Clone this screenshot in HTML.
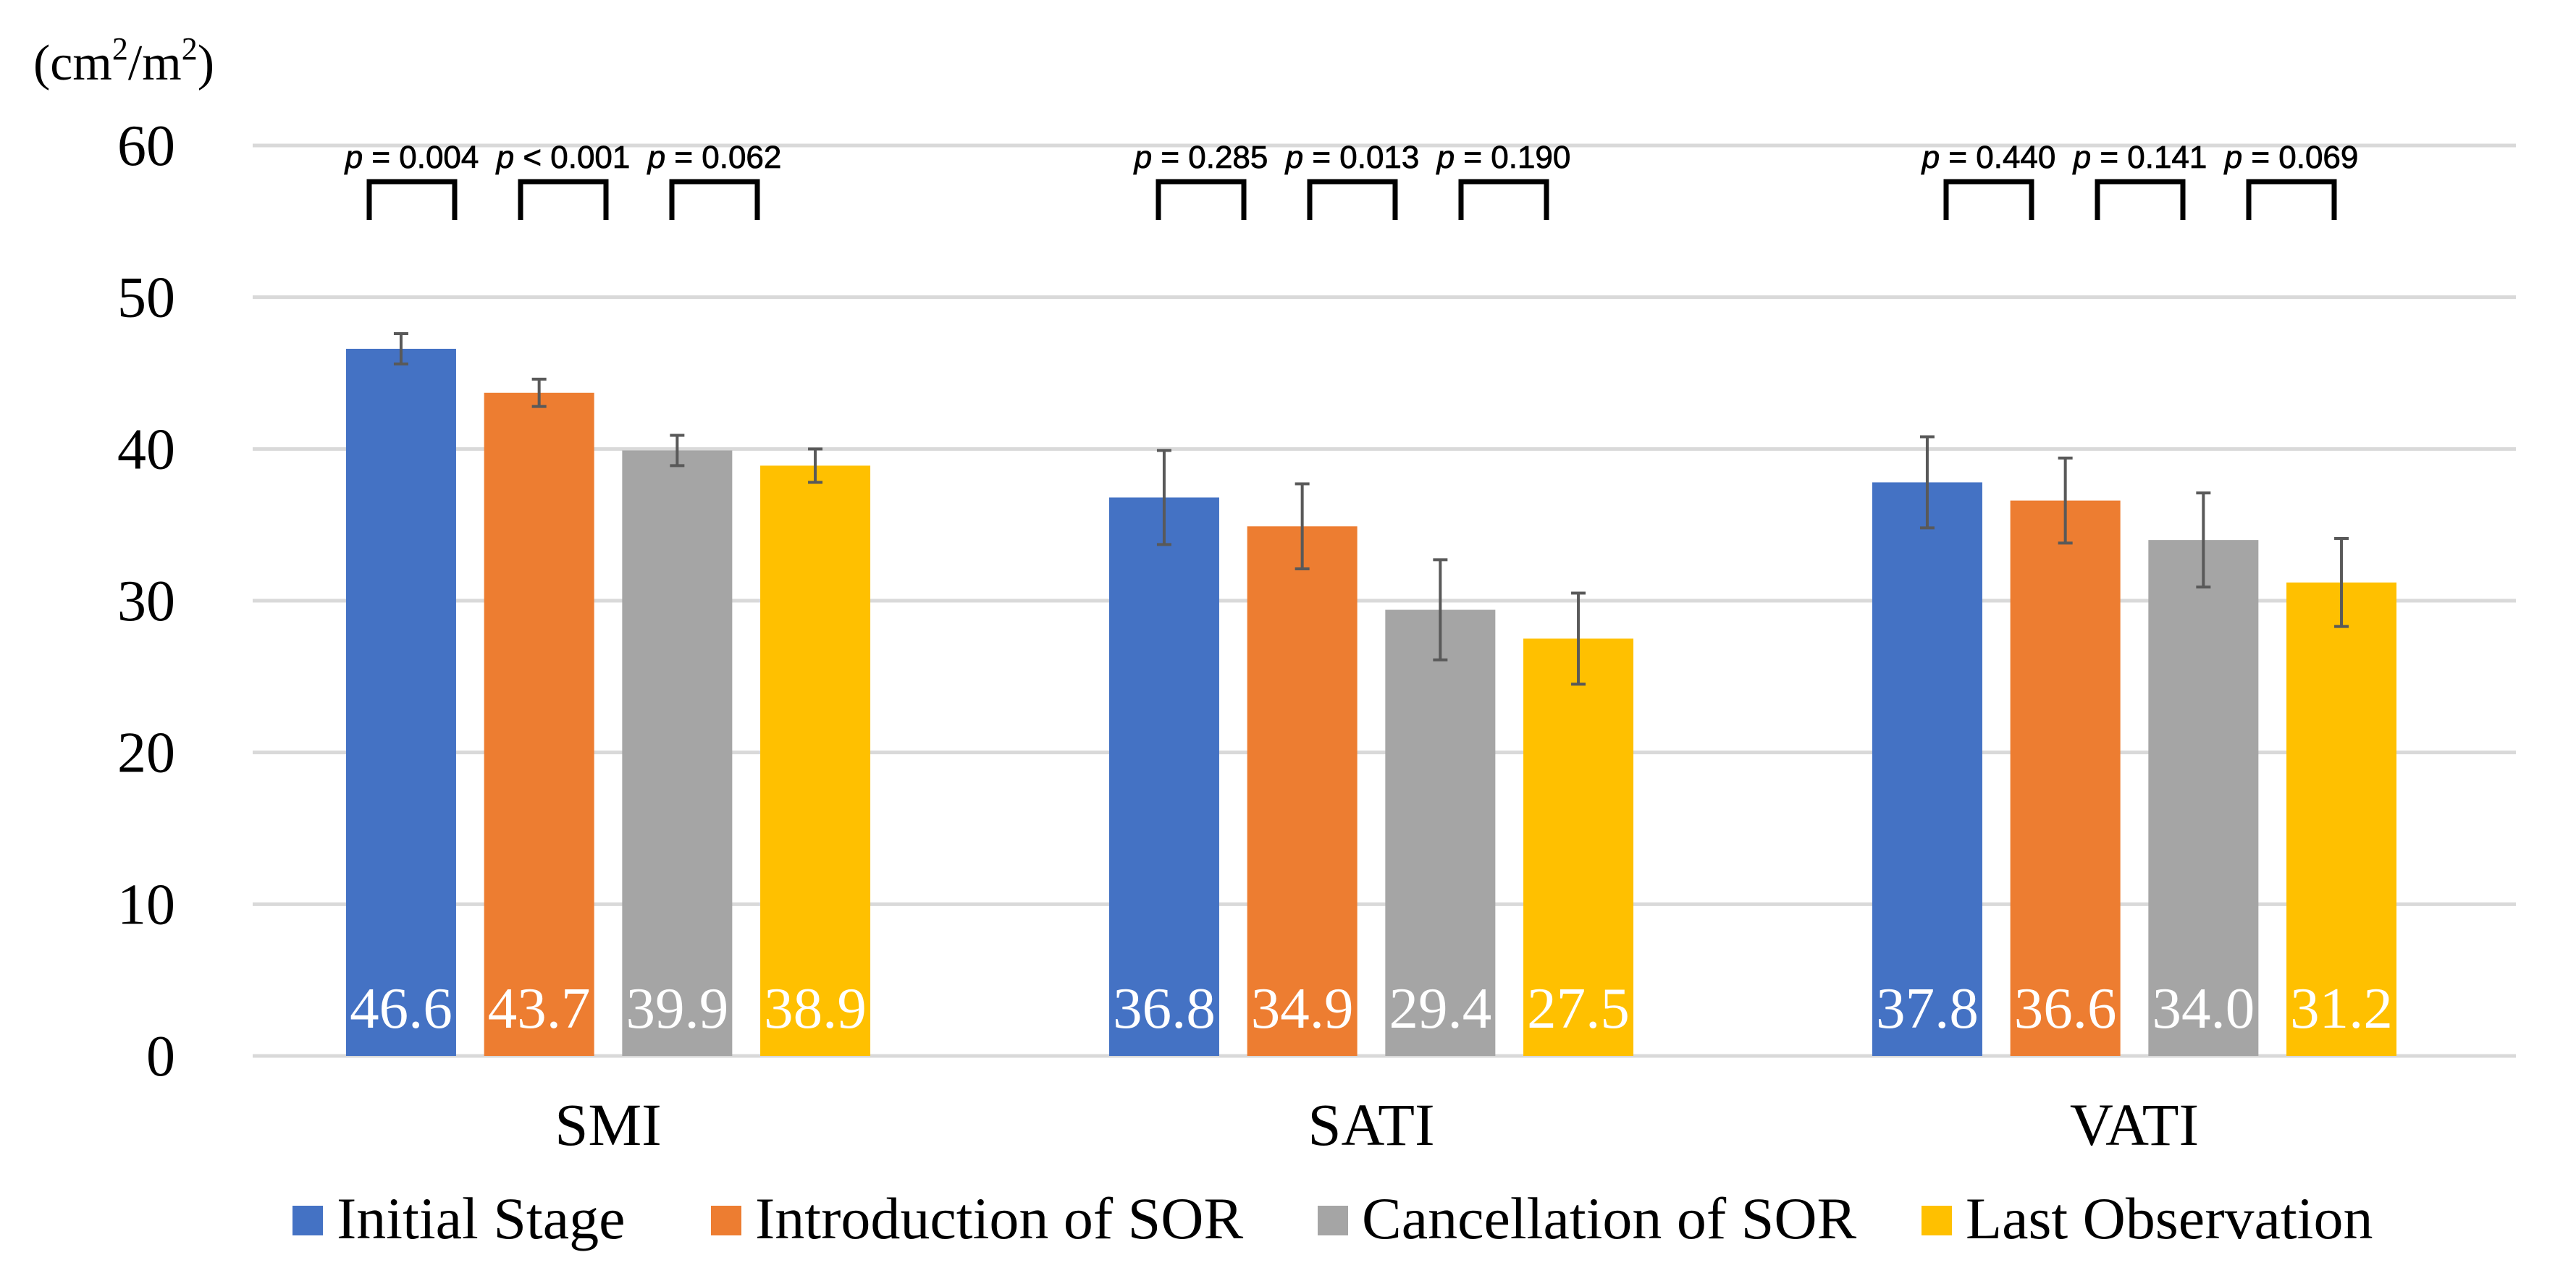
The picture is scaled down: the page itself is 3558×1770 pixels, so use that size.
<!DOCTYPE html>
<html><head><meta charset="utf-8"><style>
html,body{margin:0;padding:0;background:#fff;}
svg{display:block;}
</style></head><body>
<svg id="chart" width="3558" height="1770" viewBox="0 0 3558 1770" xmlns="http://www.w3.org/2000/svg">
<g id="grid"></g>
<g id="yticks"></g>
<g id="bars"></g>
<g id="sig"></g>
<g id="cats"></g>
<g id="legend"></g>
<text x="46" y="110" font-family="Liberation Serif, serif" font-size="70">(cm<tspan font-size="44" dy="-28">2</tspan><tspan dy="28">/m</tspan><tspan font-size="44" dy="-28">2</tspan><tspan dy="28">)</tspan></text>
</svg>
<script>
const categories = ["SMI", "SATI", "VATI"];
const seriesNames = ["Initial Stage", "Introduction of SOR", "Cancellation of SOR", "Last Observation"];
const initialStage = [46.6, 36.8, 37.8];
const introductionSOR = [43.7, 34.9, 36.6];
const cancellationSOR = [39.9, 29.4, 34.0];
const lastObservation = [38.9, 27.5, 31.2];
const errInitial = [1.0, 3.1, 3.0];
const errIntro = [0.9, 2.8, 2.8];
const errCancel = [1.0, 3.3, 3.1];
const errLast = [1.1, 3.0, 2.9];
const yTicks = [0, 10, 20, 30, 40, 50, 60];
const pSMI = ["= 0.004", "< 0.001", "= 0.062"];
const pSATI = ["= 0.285", "= 0.013", "= 0.190"];
const pVATI = ["= 0.440", "= 0.141", "= 0.069"];

const colors = ["#4472c4", "#ed7d31", "#a5a5a5", "#ffc000"];
const series = [initialStage, introductionSOR, cancellationSOR, lastObservation];
const errs = [errInitial, errIntro, errCancel, errLast];
const pvals = [pSMI, pSATI, pVATI];
const NS = "http://www.w3.org/2000/svg";
const plotL = 313, plotR = 3475, gridL = 349, y0 = 1459, yTop = 201, yMax = 60;
const y = v => y0 - (v / yMax) * (y0 - yTop);
const bandW = (plotR - plotL) / categories.length;
const xc = i => plotL + bandW * (i + 0.5);
const barW = 152, gap = 38.7;
const barX = (i, s) => xc(i) - (4 * barW + 3 * gap) / 2 + s * (barW + gap);
function mk(tag, attrs, parent) {
  const e = document.createElementNS(NS, tag);
  for (const k in attrs) e.setAttribute(k, attrs[k]);
  parent.appendChild(e);
  return e;
}
const grid = document.getElementById('grid'), yt = document.getElementById('yticks');
yTicks.forEach(t => {
  const l = mk('line', {x1: gridL, x2: plotR, y1: y(t), y2: y(t), stroke: '#d9d9d9', 'stroke-width': 5}, grid);
  
  
  const tx = mk('text', {x: 242, y: y(t) + 27, 'text-anchor': 'end', 'font-family': 'Liberation Serif, serif', 'font-size': 80}, yt);
  tx.textContent = t;
  
  
});
const bars = document.getElementById('bars');
const groupStart = [-330, -294, -260];
categories.forEach((c, i) => {
  series.forEach((ser, s) => {
    const v = ser[i], x = barX(i, s);
    const r = mk('rect', {x: x, y: y(v), width: barW, height: y0 - y(v), fill: colors[s]}, bars);
    
    
    const cx = x + barW / 2, e = errs[s][i];
    const eg = mk('g', {stroke: '#595959', 'stroke-width': 4}, bars);
    
    
    mk('line', {x1: cx, x2: cx, y1: y(v + e), y2: y(v - e)}, eg);
    mk('line', {x1: cx - 10, x2: cx + 10, y1: y(v + e), y2: y(v + e)}, eg);
    mk('line', {x1: cx - 10, x2: cx + 10, y1: y(v - e), y2: y(v - e)}, eg);
    const lbl = mk('text', {x: cx, y: 1420, 'text-anchor': 'middle', fill: '#fff', 'font-family': 'Liberation Serif, serif', 'font-size': 81}, bars);
    lbl.textContent = v.toFixed(1);
    
    
  });
  const cl = mk('text', {x: xc(i), y: 1582, 'text-anchor': 'middle', 'font-family': 'Liberation Serif, serif', 'font-size': 83}, document.getElementById('cats'));
  cl.textContent = c;
  
  
  const sig = document.getElementById('sig');
  pvals[i].forEach((p, k) => {
    const bx = xc(i) + groupStart[i] + k * 209, bw = 118;
    const br = mk('path', {d: `M${bx} 304 V251 H${bx + bw} V304`, fill: 'none', stroke: '#000', 'stroke-width': 7}, sig);
    
    
    const pt = mk('text', {x: bx + bw / 2, y: 232, 'text-anchor': 'middle', 'font-family': 'Liberation Sans, sans-serif', 'font-size': 44, stroke: '#000', 'stroke-width': 0.8}, sig);
    const it = mk('tspan', {'font-style': 'italic'}, pt);
    it.textContent = 'p';
    const rest = mk('tspan', {}, pt);
    rest.textContent = ' ' + p;
    
    
  });
});
const legend = document.getElementById('legend');
const legX = [404, 982, 1820, 2654];
seriesNames.forEach((n, s) => {
  const g = mk('g', {}, legend);
  
  
  mk('rect', {x: legX[s], y: 1666, width: 42, height: 41, fill: colors[s]}, g);
  const t = mk('text', {x: legX[s] + 61, y: 1711, 'font-family': 'Liberation Serif, serif', 'font-size': 82}, g);
  t.textContent = n;
});
</script>
</body></html>
